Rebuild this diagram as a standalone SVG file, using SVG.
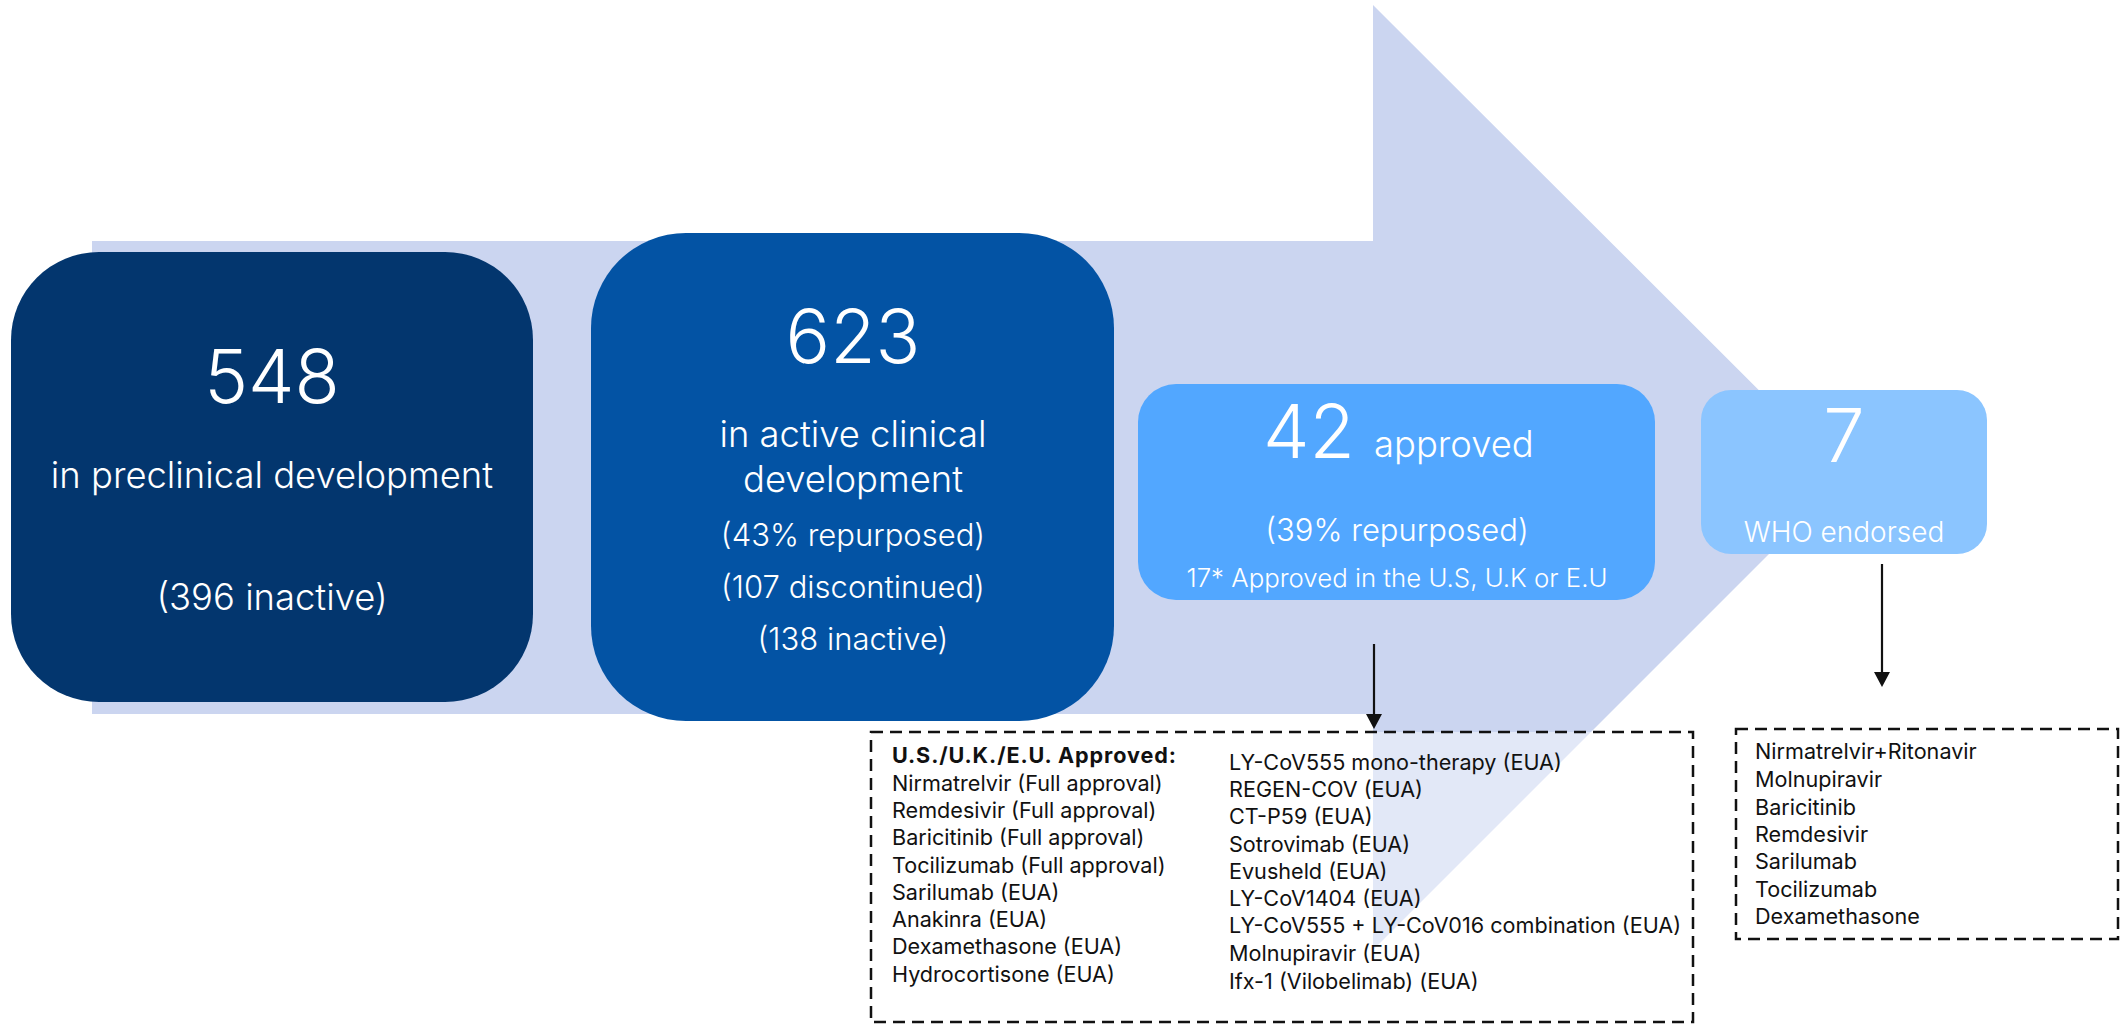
<svg xmlns="http://www.w3.org/2000/svg" width="2125" height="1025" viewBox="0 0 2125 1025">
<style>
.t{font-family:Inter,"Open Sans","Liberation Sans",sans-serif;font-weight:300;fill:#ffffff;text-anchor:middle}
.num{font-size:74px}
.main{font-size:36.4px}
.sub{font-size:31px}
.lst{font-family:Inter,"Open Sans","Liberation Sans",sans-serif;fill:#111111;font-size:21.6px}
.dash{fill:none;stroke:#111111;stroke-width:2.5;stroke-dasharray:12 7}
.conn{stroke:#111111;stroke-width:2.2;fill:none}
.head{fill:#111111}
</style>
<rect width="2125" height="1025" fill="#ffffff"/>
<g id="big-arrow">
<polygon points="92,241 1373,241 1373,5 1846,477 1373,950 1373,714 92,714" fill="#CBD5F0"/>
</g>
<g id="node-preclinical">
<rect x="11" y="252" width="522" height="450" rx="88" fill="#03366E"/>
<text class="t num" x="272" y="403">548</text>
<text class="t main" x="272" y="488">in preclinical development</text>
<text class="t main" x="272" y="610">(396 inactive)</text>
</g>
<g id="node-clinical">
<rect x="591" y="233" width="523" height="488" rx="95" fill="#0353A4"/>
<text class="t num" x="853" y="363">623</text>
<text class="t main" x="853" y="447">in active clinical</text>
<text class="t main" x="853" y="492">development</text>
<text class="t sub" x="853" y="546">(43% repurposed)</text>
<text class="t sub" x="853" y="598">(107 discontinued)</text>
<text class="t sub" x="853" y="650">(138 inactive)</text>
</g>
<g id="node-approved">
<rect x="1138" y="384" width="517" height="216" rx="38" fill="#52A7FF"/>
<text class="t num" x="1263" y="458" style="text-anchor:start">42</text>
<text class="t" x="1374" y="457" style="text-anchor:start" font-size="36.4">approved</text>
<text class="t sub" x="1397" y="541">(39% repurposed)</text>
<text class="t" x="1397" y="587" font-size="25.8">17* Approved in the U.S, U.K or E.U</text>
</g>
<g id="node-who">
<rect x="1701" y="390" width="286" height="164" rx="30" fill="#8BC5FF"/>
<text class="t num" x="1844" y="462">7</text>
<text class="t" x="1844" y="542" font-size="28">WHO endorsed</text>
</g>
<g id="list-approved">
<rect class="dash" x="871" y="732" width="822" height="290" style="fill:#ffffff;fill-opacity:0.45"/>
<text class="lst" x="892" y="763" font-weight="bold" letter-spacing="0.9">U.S./U.K./E.U. Approved:</text>
<text class="lst" x="892" y="791">Nirmatrelvir (Full approval)</text>
<text class="lst" x="892" y="818">Remdesivir (Full approval)</text>
<text class="lst" x="892" y="845">Baricitinib (Full approval)</text>
<text class="lst" x="892" y="873">Tocilizumab (Full approval)</text>
<text class="lst" x="892" y="900">Sarilumab (EUA)</text>
<text class="lst" x="892" y="927">Anakinra (EUA)</text>
<text class="lst" x="892" y="954">Dexamethasone (EUA)</text>
<text class="lst" x="892" y="982">Hydrocortisone (EUA)</text>
<text class="lst" x="1229" y="770">LY-CoV555 mono-therapy (EUA)</text>
<text class="lst" x="1229" y="797">REGEN-COV (EUA)</text>
<text class="lst" x="1229" y="824">CT-P59 (EUA)</text>
<text class="lst" x="1229" y="852">Sotrovimab (EUA)</text>
<text class="lst" x="1229" y="879">Evusheld (EUA)</text>
<text class="lst" x="1229" y="906">LY-CoV1404 (EUA)</text>
<text class="lst" x="1229" y="933">LY-CoV555 + LY-CoV016 combination (EUA)</text>
<text class="lst" x="1229" y="961">Molnupiravir (EUA)</text>
<text class="lst" x="1229" y="989">Ifx-1 (Vilobelimab) (EUA)</text>
</g>
<g id="list-who">
<rect class="dash" x="1736" y="729" width="382" height="210"/>
<text class="lst" x="1755" y="759" font-size="22">Nirmatrelvir+Ritonavir</text>
<text class="lst" x="1755" y="787" font-size="22">Molnupiravir</text>
<text class="lst" x="1755" y="815" font-size="22">Baricitinib</text>
<text class="lst" x="1755" y="842" font-size="22">Remdesivir</text>
<text class="lst" x="1755" y="869" font-size="22">Sarilumab</text>
<text class="lst" x="1755" y="897" font-size="22">Tocilizumab</text>
<text class="lst" x="1755" y="924" font-size="22">Dexamethasone</text>
</g>
<g id="connectors">
<line class="conn" x1="1374" y1="644" x2="1374" y2="716"/>
<path class="head" d="M1366,714 L1382,714 L1374,729 Z"/>
<line class="conn" x1="1882" y1="564" x2="1882" y2="674"/>
<path class="head" d="M1874,672 L1890,672 L1882,687 Z"/>
</g>
</svg>
